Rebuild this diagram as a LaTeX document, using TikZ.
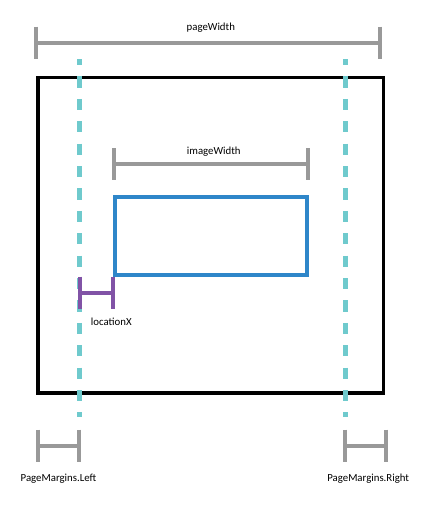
\documentclass[tikz,border=0pt]{standalone}
\usepackage{fontspec}
\setmainfont{Carlito}
\usepackage{tikz}
\usetikzlibrary{positioning}
\definecolor{barGrey}{HTML}{999999}
\definecolor{marginTeal}{HTML}{6FCACD}
\definecolor{imageBlue}{HTML}{2E86C9}
\definecolor{locPurple}{HTML}{8153A6}

\begin{document}
\begin{tikzpicture}[
				x=1pt, y=-1pt,
				greybar/.style={draw=barGrey, line width=4pt},
				purplebar/.style={draw=locPurple, line width=4pt},
				marginline/.style={draw=marginTeal, line width=4.6pt, dash pattern=on 11.2pt off 11.2pt, dash phase=5pt},
				pagebox/.style={draw=black, line width=3.5pt},
				imagebox/.style={draw=imageBlue, line width=4pt},
				labelnode/.style={font=\fontsize{10.8}{13}\selectfont, inner sep=0pt, anchor=base},
				]
				\useasboundingbox (0,0) rectangle (430,507);

				%Coordinates
				\coordinate (pwL)   at (36.3,42.5);
				\coordinate (pwR)   at (380.2,42.5);
				\coordinate (iwL)   at (114,164);
				\coordinate (iwR)   at (308,164);
				\coordinate (locL)  at (80.3,292.7);
				\coordinate (locR)  at (113.3,292.7);
				\coordinate (pmlL)  at (38.2,445.5);
				\coordinate (pmlR)  at (79.2,445.5);
				\coordinate (pmrL)  at (344.8,445.5);
				\coordinate (pmrR)  at (385.5,445.5);
				\coordinate (mLtop) at (79.7,59);
				\coordinate (mLbot) at (79.7,417);
				\coordinate (mRtop) at (345.2,59);
				\coordinate (mRbot) at (345.2,417);

				%Labels
				\node[labelnode]  (pwlabel)   at (210.8,30.6)   {pageWidth};
				\node[labelnode]  (iwlabel)   at (213.8,154)    {imageWidth};
				\node[labelnode]  (loclabel)  at (111.3,325.6)  {locationX};
				\node[labelnode]  (pmllabel)  at (58.5,481)     {PageMargins.Left};
				\node[labelnode]  (pmrlabel)  at (368.2,481.6)  {PageMargins.Right};

				%Boxes
				\draw[pagebox]  (38,77.7) rectangle (383.7,393);
				\draw[imagebox] (115.3,196.5) rectangle (306.5,274.7);

				%Margins
				\draw[marginline] (mLtop) -- (mLbot);
				\draw[marginline] (mRtop) -- (mRbot);

				%Bars
				\draw[greybar] (pwL) -- (pwR);
				\draw[greybar] (pwL) ++(0,-16) -- ++(0,32);
				\draw[greybar] (pwR) ++(0,-16) -- ++(0,32);
				\draw[greybar] (iwL) -- (iwR);
				\draw[greybar] (iwL) ++(0,-16) -- ++(0,32);
				\draw[greybar] (iwR) ++(0,-16) -- ++(0,32);
				\draw[greybar] (pmlL) -- (pmlR);
				\draw[greybar] (pmlL) ++(0,-16) -- ++(0,32);
				\draw[greybar] (pmlR) ++(0,-16) -- ++(0,32);
				\draw[greybar] (pmrL) -- (pmrR);
				\draw[greybar] (pmrL) ++(0,-16) -- ++(0,32);
				\draw[greybar] (pmrR) ++(0,-16) -- ++(0,32);
				\draw[purplebar] (locL) -- (locR);
				\draw[purplebar] (locL) ++(0,-16) -- ++(0,32);
				\draw[purplebar] (locR) ++(0,-16) -- ++(0,32);
			\end{tikzpicture}
\end{document}
